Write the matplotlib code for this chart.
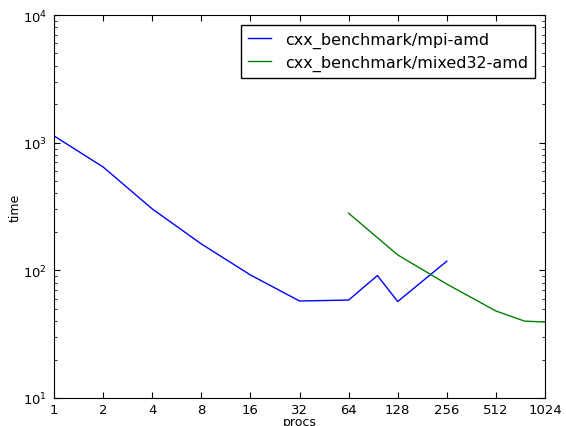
import matplotlib
matplotlib.use('Agg')
import matplotlib.pyplot as plt
from matplotlib.ticker import FixedLocator, FixedFormatter, NullLocator

# Timing data
mpi_procs = [1, 2, 4, 8, 16, 32, 64, 96, 128, 256]
mpi_time = [1130, 645, 303, 161, 92, 57.5, 58.5, 91, 57, 118]

mixed_procs = [64, 128, 256, 512, 768, 1024]
mixed_time = [280, 132, 78, 48, 40, 39.4]

xticks = [1, 2, 4, 8, 16, 32, 64, 128, 256, 512, 1024]

fig = plt.figure(figsize=(5.66, 4.27), dpi=100)
ax = fig.add_axes([0.0954, 0.0656, 0.8676, 0.8969])

ax.plot(mpi_procs, mpi_time, color='blue', lw=1.0, label='cxx_benchmark/mpi-amd')
ax.plot(mixed_procs, mixed_time, color='green', lw=1.0, label='cxx_benchmark/mixed32-amd')

ax.set_xscale('log', base=2)
ax.set_yscale('log')
ax.set_xlim(1, 1024)
ax.set_ylim(10, 1e4)

ax.xaxis.set_major_locator(FixedLocator(xticks))
ax.xaxis.set_major_formatter(FixedFormatter([str(t) for t in xticks]))
ax.xaxis.set_minor_locator(NullLocator())

ax.tick_params(which='both', direction='in', top=True, right=True, labelsize=9.5)
ax.tick_params(which='major', length=4)
ax.tick_params(which='minor', length=2)
ax.tick_params(axis='x', pad=3.5)
ax.tick_params(axis='y', pad=5)

ax.set_xlabel('procs', fontsize=9)
ax.set_ylabel('time', fontsize=9)
ax.xaxis.set_label_coords(0.5, -0.045)
ax.yaxis.set_label_coords(-0.065, 0.5)

leg = ax.legend(loc='upper right', fontsize=11.5, fancybox=False, framealpha=1,
                edgecolor='black', borderaxespad=0.6, handlelength=1.4,
                handletextpad=0.9, borderpad=0.45, labelspacing=0.4)
leg.get_frame().set_linewidth(1.0)

fig.savefig('out.png', dpi=100)
